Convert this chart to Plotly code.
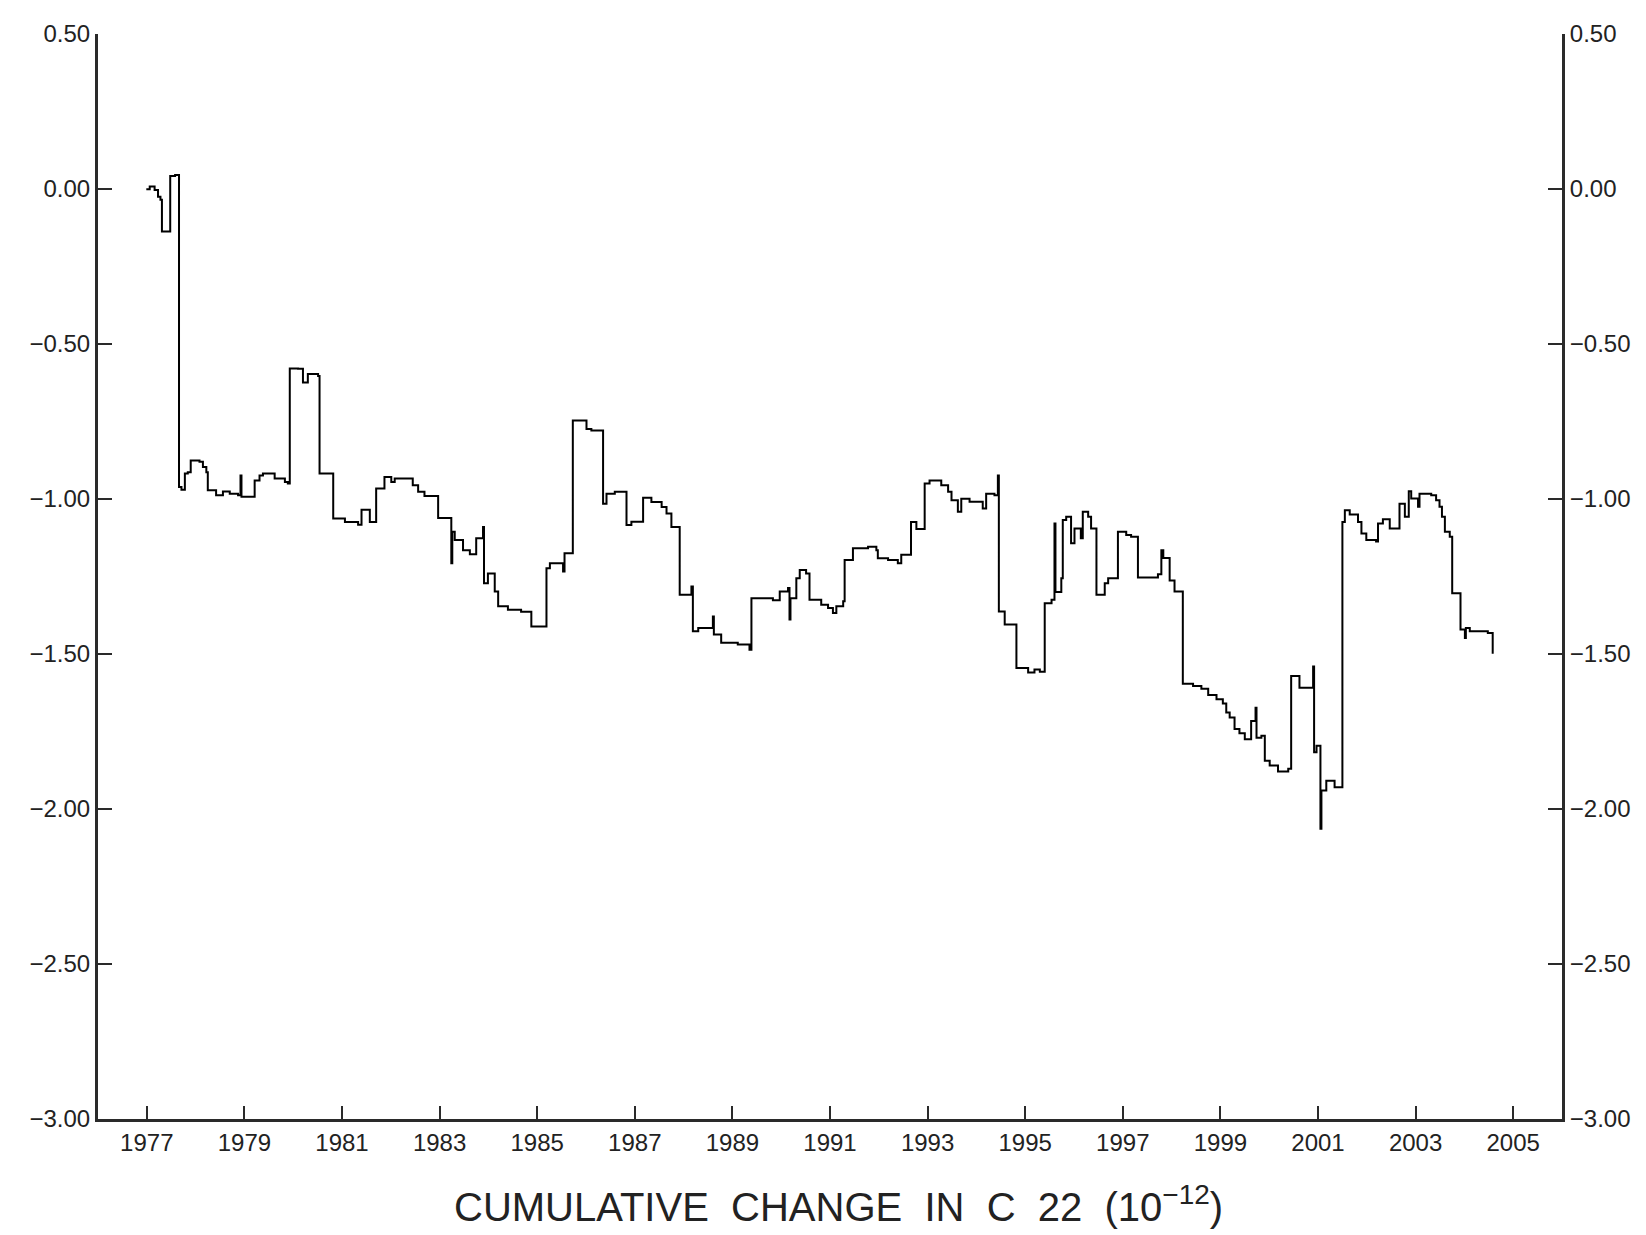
import plotly.graph_objects as go

# Time (decimal years) and cumulative change in C22 (units of 1e-12); step series
years = [1976.99, 1977.06, 1977.16, 1977.23, 1977.28, 1977.31, 1977.48, 1977.58, 1977.66, 1977.71,
         1977.78, 1977.84, 1977.90, 1978.08, 1978.15, 1978.22, 1978.25, 1978.42, 1978.56, 1978.70,
         1978.87, 1978.92, 1978.94, 1979.21, 1979.31, 1979.38, 1979.62, 1979.83, 1979.89, 1979.93,
         1980.10, 1980.20, 1980.30, 1980.51, 1980.54, 1980.82, 1981.06, 1981.33, 1981.40, 1981.57,
         1981.70, 1981.87, 1982.01, 1982.08, 1982.45, 1982.56, 1982.69, 1982.97, 1983.24, 1983.26,
         1983.31, 1983.48, 1983.62, 1983.75, 1983.89, 1983.91, 1983.99, 1984.13, 1984.20, 1984.40,
         1984.67, 1984.88, 1985.19, 1985.26, 1985.53, 1985.56, 1985.73, 1986.01, 1986.11, 1986.35,
         1986.42, 1986.59, 1986.83, 1986.93, 1987.17, 1987.34, 1987.55, 1987.65, 1987.75, 1987.92,
         1988.16, 1988.19, 1988.30, 1988.60, 1988.62, 1988.77, 1989.11, 1989.35, 1989.39, 1989.83,
         1989.97, 1990.14, 1990.17, 1990.19, 1990.31, 1990.38, 1990.51, 1990.58, 1990.82, 1990.96,
         1991.06, 1991.13, 1991.27, 1991.30, 1991.47, 1991.78, 1991.95, 1991.98, 1992.19, 1992.39,
         1992.46, 1992.66, 1992.77, 1992.94, 1993.04, 1993.28, 1993.42, 1993.49, 1993.62, 1993.69,
         1993.86, 1994.13, 1994.20, 1994.37, 1994.44, 1994.46, 1994.58, 1994.82, 1995.06, 1995.19,
         1995.30, 1995.40, 1995.54, 1995.60, 1995.62, 1995.74, 1995.77, 1995.84, 1995.94, 1996.01,
         1996.14, 1996.18, 1996.29, 1996.35, 1996.46, 1996.63, 1996.70, 1996.90, 1997.07, 1997.17,
         1997.31, 1997.72, 1997.79, 1997.83, 1997.96, 1998.06, 1998.23, 1998.44, 1998.61, 1998.75,
         1998.92, 1999.05, 1999.12, 1999.19, 1999.29, 1999.39, 1999.50, 1999.63, 1999.72, 1999.74,
         1999.84, 1999.91, 2000.01, 2000.18, 2000.39, 2000.45, 2000.62, 2000.90, 2000.92, 2000.97,
         2001.05, 2001.07, 2001.17, 2001.34, 2001.50, 2001.55, 2001.65, 2001.82, 2001.89, 2001.99,
         2002.19, 2002.23, 2002.33, 2002.47, 2002.67, 2002.78, 2002.86, 2002.91, 2003.05, 2003.08,
         2003.32, 2003.42, 2003.49, 2003.54, 2003.60, 2003.70, 2003.75, 2003.92, 2004.01, 2004.03,
         2004.11, 2004.48, 2004.58, 2004.60]

c22 = [-0.001, 0.008, -0.003, -0.025, -0.035, -0.137, 0.042, 0.045, -0.961, -0.970,
       -0.918, -0.914, -0.876, -0.880, -0.897, -0.914, -0.972, -0.988, -0.976, -0.983,
       -0.988, -0.924, -0.993, -0.940, -0.924, -0.918, -0.934, -0.945, -0.950, -0.579,
       -0.580, -0.624, -0.597, -0.603, -0.918, -1.063, -1.074, -1.083, -1.035, -1.074,
       -0.966, -0.929, -0.945, -0.934, -0.956, -0.977, -0.990, -1.061, -1.207, -1.106,
       -1.132, -1.165, -1.178, -1.127, -1.090, -1.272, -1.240, -1.298, -1.346, -1.357,
       -1.364, -1.411, -1.223, -1.207, -1.234, -1.175, -0.747, -0.774, -0.779, -1.015,
       -0.983, -0.977, -1.084, -1.073, -0.996, -1.010, -1.026, -1.047, -1.090, -1.309,
       -1.282, -1.427, -1.416, -1.379, -1.437, -1.464, -1.469, -1.486, -1.320, -1.327,
       -1.298, -1.287, -1.389, -1.320, -1.256, -1.229, -1.240, -1.325, -1.341, -1.352,
       -1.368, -1.346, -1.330, -1.197, -1.159, -1.154, -1.165, -1.191, -1.197, -1.207,
       -1.180, -1.074, -1.097, -0.950, -0.940, -0.956, -0.977, -1.004, -1.041, -0.999,
       -1.009, -1.031, -0.983, -0.988, -0.924, -1.363, -1.405, -1.545, -1.560, -1.550,
       -1.557, -1.336, -1.325, -1.079, -1.300, -1.256, -1.068, -1.057, -1.143, -1.095,
       -1.127, -1.041, -1.057, -1.095, -1.309, -1.272, -1.256, -1.106, -1.116, -1.122,
       -1.253, -1.243, -1.165, -1.190, -1.263, -1.298, -1.596, -1.603, -1.612, -1.632,
       -1.646, -1.660, -1.689, -1.705, -1.742, -1.756, -1.775, -1.716, -1.673, -1.770,
       -1.764, -1.844, -1.860, -1.879, -1.870, -1.571, -1.609, -1.540, -1.817, -1.796,
       -2.064, -1.940, -1.909, -1.930, -1.074, -1.036, -1.050, -1.074, -1.111, -1.132,
       -1.137, -1.079, -1.065, -1.095, -1.015, -1.057, -0.975, -0.998, -1.025, -0.983,
       -0.988, -1.004, -1.025, -1.057, -1.106, -1.122, -1.304, -1.421, -1.448, -1.416,
       -1.427, -1.432, -1.496, -1.496]

x_ticks = list(range(1977, 2006, 2))
x_tick_labels = [str(v) for v in x_ticks]
y_ticks = [0.5, 0.0, -0.5, -1.0, -1.5, -2.0, -2.5, -3.0]
title_text = "CUMULATIVE  CHANGE  IN  C  22  (10<sup>\u221212</sup>)"

AX = "#2a2a2a"
tick_font = dict(family="Liberation Sans, Arial, sans-serif", size=24, color="#222222")

fig = go.Figure()
fig.add_trace(go.Scatter(x=years, y=c22, mode="lines", line=dict(color="black", width=2, shape="hv"),
                         showlegend=False, hoverinfo="skip"))
fig.add_trace(go.Scatter(x=years, y=c22, mode="lines", yaxis="y2",
                         line=dict(color="rgba(0,0,0,0)", width=0, shape="hv"),
                         showlegend=False, hoverinfo="skip"))

fig.update_layout(
    width=1646, height=1235,
    margin=dict(l=90, r=92, t=20, b=124),
    paper_bgcolor="white", plot_bgcolor="white",
    xaxis=dict(range=[1976, 2006], tickvals=x_ticks, ticktext=x_tick_labels,
               showline=True, linecolor=AX, linewidth=3, mirror=False,
               ticks="inside", ticklen=13, tickwidth=2, tickcolor=AX,
               showgrid=False, zeroline=False, tickfont=tick_font),
    yaxis=dict(range=[-3.0, 0.5], tickvals=y_ticks, tickformat=".2f",
               showline=True, linecolor=AX, linewidth=3,
               ticks="inside", ticklen=14, tickwidth=2, tickcolor=AX,
               showgrid=False, zeroline=False, tickfont=tick_font),
    yaxis2=dict(range=[-3.0, 0.5], tickvals=y_ticks, tickformat=".2f",
                overlaying="y", side="right",
                showline=True, linecolor=AX, linewidth=3,
                ticks="inside", ticklen=14, tickwidth=2, tickcolor=AX,
                showgrid=False, zeroline=False, tickfont=tick_font),
    annotations=[dict(text=title_text, xref="paper", yref="paper", x=0.5055, y=-0.0779,
                      xanchor="center", yanchor="middle", showarrow=False,
                      font=dict(family="Liberation Sans, Arial, sans-serif",
                                size=40, color="#222222"))],
)

fig.write_html("out.html")
